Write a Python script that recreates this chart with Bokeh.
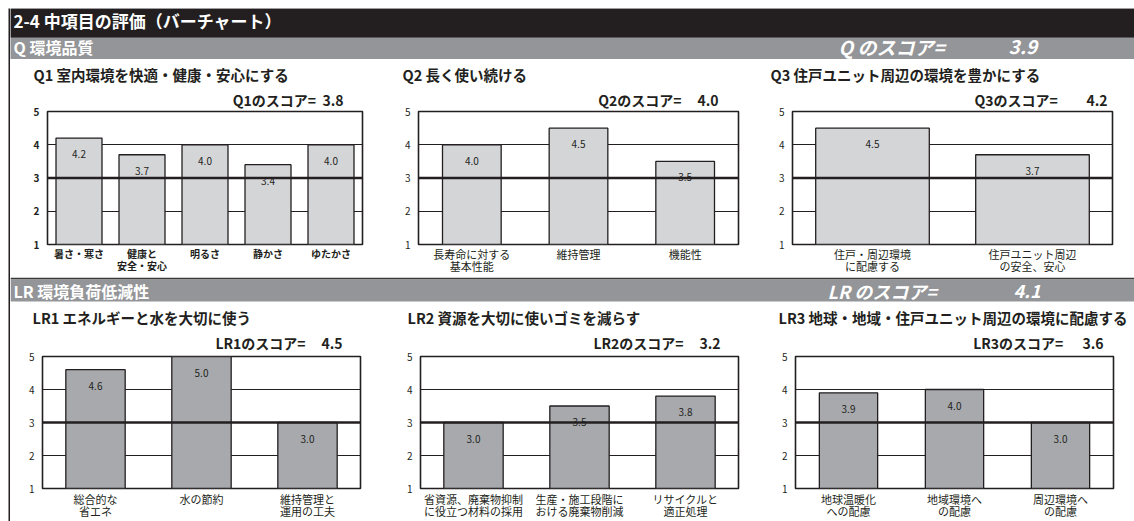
from bokeh.plotting import figure
from bokeh.layouts import row, column
from bokeh.models import FactorRange, Range1d, FixedTicker, Span, Title, Spacer
from bokeh.core.properties import value
from bokeh.embed import file_html
from bokeh.resources import INLINE

# ---------------- data ----------------
header_title = "2-4  中項目の評価（バーチャート）"
sections = ["Q  環境品質", "LR  環境負荷低減性"]
section_labels = ["Q のスコア=", "LR のスコア="]
section_scores = [3.9, 4.1]

q_titles = ["Q1 室内環境を快適・健康・安心にする", "Q2 長く使い続ける", "Q3 住戸ユニット周辺の環境を豊かにする"]
q_score_names = ["Q1のスコア=", "Q2のスコア=", "Q3のスコア="]
q_scores = [3.8, 4.0, 4.2]
lr_titles = ["LR1 エネルギーと水を大切に使う", "LR2 資源を大切に使いゴミを減らす", "LR3 地球・地域・住戸ユニット周辺の環境に配慮する"]
lr_score_names = ["LR1のスコア=", "LR2のスコア=", "LR3のスコア="]
lr_scores = [4.5, 3.2, 3.6]

q1_cats = ["暑さ・寒さ", "健康と\n安全・安心", "明るさ", "静かさ", "ゆたかさ"]
q1_vals = [4.2, 3.7, 4.0, 3.4, 4.0]
q2_cats = ["長寿命に対する\n基本性能", "維持管理", "機能性"]
q2_vals = [4.0, 4.5, 3.5]
q3_cats = ["住戸・周辺環境\nに配慮する", "住戸ユニット周辺\nの安全、安心"]
q3_vals = [4.5, 3.7]
lr1_cats = ["総合的な\n省エネ", "水の節約", "維持管理と\n運用の工夫"]
lr1_vals = [4.6, 5.0, 3.0]
lr2_cats = ["省資源、廃棄物抑制\nに役立つ材料の採用", "生産・施工段階に\nおける廃棄物削減", "リサイクルと\n適正処理"]
lr2_vals = [3.0, 3.5, 3.8]
lr3_cats = ["地球温暖化\nへの配慮", "地域環境へ\nの配慮", "周辺環境へ\nの配慮"]
lr3_vals = [3.9, 4.0, 3.0]
y_ticks = [1, 2, 3, 4, 5]

FONT = "Noto Sans CJK JP"
BLACK = "#231f20"
BAND = "#939598"
Q_FILL = "#d4d5d7"
LR_FILL = "#a7a9ac"
LINE = "#231f20"
NBSP = "\u00a0"


def canvas(w, h, bg="white"):
    f = figure(width=w, height=h, x_range=Range1d(0, w), y_range=Range1d(h, 0),
               output_backend="svg", toolbar_location=None, min_border=0)
    f.axis.visible = False
    f.grid.visible = False
    f.outline_line_color = None
    f.background_fill_color = bg
    f.border_fill_color = bg
    return f


def put(f, x, y, s, size, style="bold", color=BLACK, align="left"):
    f.text(x=[x], y=[y], text=[s], text_font=value(FONT), text_font_size=value(size),
           text_font_style=style, text_color=color, text_align=align, text_baseline="middle")


def chart(cats, vals, w, h, left, right, top, bottom, bar_w, fill, bold=False,
          lh=0.8, standoff=1):
    p = figure(width=w, height=h, x_range=FactorRange(factors=cats), y_range=Range1d(1, 5),
               output_backend="svg", toolbar_location=None,
               min_border_left=left, min_border_right=right,
               min_border_top=top, min_border_bottom=bottom)
    p.background_fill_color = "white"
    p.border_fill_color = "white"
    p.outline_line_color = LINE
    p.outline_line_width = 1.6
    p.xgrid.visible = False
    p.ygrid.ticker = FixedTicker(ticks=[2, 3, 4])
    p.ygrid.grid_line_color = LINE
    p.ygrid.grid_line_width = 1.2
    p.yaxis.ticker = FixedTicker(ticks=y_ticks)
    for ax in (p.xaxis[0], p.yaxis[0]):
        ax.axis_line_color = None
        ax.major_tick_line_color = None
        ax.minor_tick_line_color = None
        ax.major_tick_out = 0
        ax.major_tick_in = 0
        ax.minor_tick_out = 0
        ax.major_label_text_font = FONT
        ax.major_label_text_color = BLACK
        ax.major_label_text_font_style = "bold" if bold else "normal"
    p.yaxis.major_label_text_font_size = "10px"
    p.yaxis.major_label_standoff = 8
    p.xaxis.major_label_text_font_size = "10px" if bold else "11px"
    p.xaxis.major_label_standoff = standoff
    p.xaxis.major_label_text_line_height = lh
    p.vbar(x=cats, top=vals, bottom=1, width=bar_w, fill_color=fill,
           line_color=LINE, line_width=1.3)
    p.add_layout(Span(location=3, dimension="width", line_color=LINE, line_width=2.6))
    p.text(x=cats, y=vals, text=[f"{v:.1f}" for v in vals], text_font=value(FONT),
           text_font_size=value("10px"), text_color=BLACK, text_align="center",
           text_baseline="middle", y_offset=16)
    return p


def titles(p, name, name_off, score_text, score_off, s_standoff, n_standoff):
    p.add_layout(Title(text=score_text, align="right", offset=score_off, standoff=s_standoff,
                       text_font=FONT, text_font_size="14px", text_font_style="bold",
                       text_color=BLACK), "above")
    p.add_layout(Title(text=name, align="left", offset=name_off, standoff=n_standoff,
                       text_font=FONT, text_font_size="14.5px", text_font_style="bold",
                       text_color=BLACK), "above")


W = 1124

# page y 8..59 : black header + Q band
top = canvas(W, 51, BAND)
top.quad(left=[0], right=[W], top=[0], bottom=[29], fill_color=BLACK, line_color=None)
put(top, 3, 12, header_title, "17px", "bold", "white")
put(top, 3, 38, sections[0], "16px", "bold", "white")
put(top, 828, 38, section_labels[0], "19px", "bold italic", "white")
put(top, 998, 38, f"{section_scores[0]:.1f}", "19px", "bold italic", "white")

# page y 277..303 : separator + LR band
mid = canvas(W, 26, "white")
mid.quad(left=[0], right=[W], top=[0], bottom=[2], fill_color="#3a3a3a", line_color=None)
mid.quad(left=[0], right=[W], top=[2], bottom=[24], fill_color=BAND, line_color=None)
put(mid, 3, 13, sections[1], "16px", "bold", "white")
put(mid, 817, 13, section_labels[1], "18px", "bold italic", "white")
put(mid, 1003, 13, f"{section_scores[1]:.1f}", "18px", "bold italic", "white")

# Q charts: page y 59..277, frame from 111
qc1 = chart(q1_cats, q1_vals, 375, 218, 37, 23, 52, 33, 0.73, Q_FILL, bold=True)
qc2 = chart(q2_cats, q2_vals, 375, 218, 33, 22, 52, 33, 0.55, Q_FILL)
qc3 = chart(q3_cats, q3_vals, 374, 218, 32, 22, 52, 33, 0.71, Q_FILL)
# LR charts: page y 303..521, frame from 356
lc1 = chart(lr1_cats, lr1_vals, 375, 218, 32, 25, 53, 30, 0.56, LR_FILL, lh=0.75, standoff=2)
lc2 = chart(lr2_cats, lr2_vals, 375, 218, 35, 22, 53, 30, 0.56, LR_FILL, lh=0.75, standoff=2)
lc3 = chart(lr3_cats, lr3_vals, 374, 218, 35, 21, 53, 30, 0.55, LR_FILL, lh=0.75, standoff=2)

q_gaps = [2, 5, 9]
q_name_off = [-14, -16, -22]
q_score_off = [19, 20, 5]
for i, p in enumerate([qc1, qc2, qc3]):
    titles(p, q_titles[i], q_name_off[i],
           q_score_names[i] + NBSP * q_gaps[i] + f"{q_scores[i]:.1f}", q_score_off[i], 4, 2)

lr_gaps = [5, 5, 6]
lr_name_off = [-10, -13, -17]
lr_score_off = [18, 18, 10]
for i, p in enumerate([lc1, lc2, lc3]):
    titles(p, lr_titles[i], lr_name_off[i],
           lr_score_names[i] + NBSP * lr_gaps[i] + f"{lr_scores[i]:.1f}", lr_score_off[i], 7, 0)

strip = canvas(2, 513, BLACK)
body = column(top, row(qc1, qc2, qc3), mid, row(lc1, lc2, lc3))
page = column(Spacer(width=1134, height=8), row(Spacer(width=8, height=513), strip, body))

open("out.html", "w").write(file_html(page, INLINE))
